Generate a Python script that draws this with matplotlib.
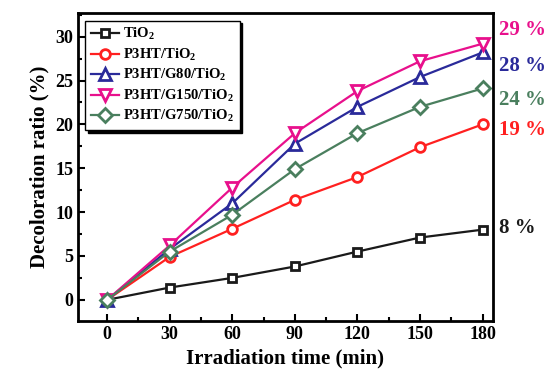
import matplotlib
matplotlib.use('Agg')
import matplotlib.pyplot as plt
from matplotlib.ticker import MultipleLocator

plt.rcParams['font.family'] = 'Liberation Serif'
plt.rcParams['font.weight'] = 'bold'
plt.rcParams['mathtext.fontset'] = 'custom'
plt.rcParams['mathtext.rm'] = 'Liberation Serif:bold'
plt.rcParams['mathtext.it'] = 'Liberation Serif:bold'
plt.rcParams['mathtext.bf'] = 'Liberation Serif:bold'

time_min = [0, 30, 60, 90, 120, 150, 180]
tio2 = [0, 1.4, 2.5, 3.8, 5.5, 7.1, 8.0]
p3ht_tio2 = [0, 4.9, 8.1, 11.4, 14.0, 17.4, 20.0]
p3ht_g80 = [0, 5.8, 11.0, 17.8, 22.0, 25.4, 28.2]
p3ht_g150 = [0, 6.2, 12.8, 19.0, 23.8, 27.2, 29.2]
p3ht_g750 = [0, 5.5, 9.7, 14.9, 19.0, 22.0, 24.1]

labels = ['TiO$_2$', 'P3HT/TiO$_2$', 'P3HT/G80/TiO$_2$',
          'P3HT/G150/TiO$_2$', 'P3HT/G750/TiO$_2$']
series = [tio2, p3ht_tio2, p3ht_g80, p3ht_g150, p3ht_g750]
colors = ['#1a1a1a', '#ff2020', '#2a2a9a', '#e8108c', '#4a7f5e']
markers = ['s', 'o', '^', 'v', 'D']
sizes = [6, 7, 8, 8, 7]

# final ratios written beside the right axis
final_text = ['8 %', '19 %', '28 %', '29 %', '24 %']
text_y = [8.2, 19.4, 26.7, 30.8, 22.8]

fig = plt.figure(figsize=(5.49, 3.82), dpi=100)
ax = fig.add_axes([0.142, 0.16, 0.756, 0.806])

for y, lab, c, m, s in zip(series, labels, colors, markers, sizes):
    ax.plot(time_min, y, color=c, marker=m, markersize=s, markerfacecolor='white',
            markeredgecolor=c, markeredgewidth=2, linewidth=1.6, label=lab)

for t, ty, c in zip(final_text, text_y, colors):
    ax.text(1.015, ty, t, transform=ax.get_yaxis_transform(), color=c,
            fontsize=15, fontweight='bold', va='center', ha='left')

ax.set_xlim(-14, 185)
ax.set_ylim(-2.4, 32.7)
ax.set_xticks(time_min)
ax.xaxis.set_minor_locator(MultipleLocator(15))
ax.yaxis.set_major_locator(MultipleLocator(5))
ax.yaxis.set_minor_locator(MultipleLocator(2.5))
ax.tick_params(which='both', direction='in', width=1.5, labelsize=13)
ax.tick_params(which='major', length=5)
ax.tick_params(which='minor', length=3)
for sp in ax.spines.values():
    sp.set_linewidth(2)

ax.set_xlabel('Irradiation time (min)', fontsize=15, fontweight='bold')
ax.set_ylabel('Decoloration ratio (%)', fontsize=15, fontweight='bold')

leg = ax.legend(loc='upper left', bbox_to_anchor=(0.01, 0.985), fontsize=10.5,
                frameon=True, fancybox=False, edgecolor='black',
                shadow={'color': 'black', 'alpha': 1},
                handlelength=1.9, handletextpad=0.3, labelspacing=0.3,
                borderpad=0.4, borderaxespad=0.2)
leg.get_frame().set_linewidth(1)

fig.savefig('out.png', dpi=100)
